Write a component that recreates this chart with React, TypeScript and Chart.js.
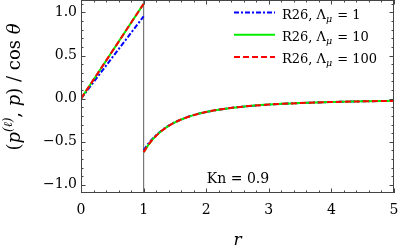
import React, { useEffect, useRef } from 'react';
import { Chart, registerables } from 'chart.js';
Chart.register(...registerables);

// ---- data ----
const innerR = [0, 0.5, 1];
const outerR = [1, 1.1, 1.2, 1.3, 1.4, 1.5, 1.6, 1.8, 2, 2.25, 2.5, 3, 3.5, 4, 4.5, 5];
const blueInner = [0, 0.478, 0.955];
const greenInner = [0, 0.55, 1.1];
const redInner = [0, 0.55, 1.1];
const blueOuter = [-0.6, -0.5, -0.425, -0.363, -0.313, -0.274, -0.241, -0.19, -0.155, -0.122, -0.099, -0.069, -0.051, -0.039, -0.031, -0.025];
const greenOuter = [-0.62, -0.512, -0.431, -0.367, -0.316, -0.276, -0.242, -0.191, -0.155, -0.122, -0.099, -0.069, -0.051, -0.039, -0.031, -0.025];
const redOuter = [-0.62, -0.512, -0.431, -0.367, -0.316, -0.276, -0.242, -0.191, -0.155, -0.122, -0.099, -0.069, -0.051, -0.039, -0.031, -0.025];
const lambdaValues = ['1', '10', '100'];
const xTicks = [0, 1, 2, 3, 4, 5];
const yTicks = [-1, -0.5, 0, 0.5, 1];
const xRange = [0, 5];
const yRange = [-1.095, 1.145];
const wallR = 1;
const knLabel = 'Kn = 0.9';
const xTitle = 'r';

const SERIF = '"DejaVu Serif", serif';

type Pt = { x: number; y: number | null };
function build(inner: number[], outer: number[]): Pt[] {
  const a: Pt[] = innerR.map((r, i) => ({ x: r, y: inner[i] }));
  const gap: Pt[] = [{ x: wallR, y: null }];
  const b: Pt[] = outerR.map((r, i) => ({ x: r, y: outer[i] }));
  return a.concat(gap, b);
}

const seriesStyle = [
  { color: '#0000ff', dash: [5, 2, 2, 2] },
  { color: '#00ee00', dash: [] as number[] },
  { color: '#ff0000', dash: [6, 3] },
];

const decorPlugin = {
  id: 'decor',
  afterDraw(chart: any) {
    const { ctx, chartArea: ca, scales } = chart;
    const xs = scales.x;
    const ys = scales.y;
    ctx.save();
    // frame
    ctx.strokeStyle = '#444';
    ctx.lineWidth = 1;
    ctx.strokeRect(ca.left + 0.5, ca.top + 0.5, ca.right - ca.left - 1, ca.bottom - ca.top - 1);
    // ticks
    ctx.beginPath();
    for (let i = 0; i <= 25; i++) {
      const v = i * 0.2;
      const major = i % 5 === 0;
      const L = major ? 4.5 : 2.5;
      const px = Math.round(xs.getPixelForValue(v)) + 0.5;
      ctx.moveTo(px, ca.bottom);
      ctx.lineTo(px, ca.bottom - L);
      ctx.moveTo(px, ca.top);
      ctx.lineTo(px, ca.top + L);
    }
    for (let i = -11; i <= 11; i++) {
      const v = i * 0.1;
      if (v < yRange[0] || v > yRange[1]) continue;
      const major = i % 5 === 0;
      const L = major ? 4.5 : 2.5;
      const py = Math.round(ys.getPixelForValue(v)) + 0.5;
      ctx.moveTo(ca.left, py);
      ctx.lineTo(ca.left + L, py);
      ctx.moveTo(ca.right, py);
      ctx.lineTo(ca.right - L, py);
    }
    ctx.stroke();

    // Kn label
    ctx.fillStyle = '#000';
    ctx.font = `14px ${SERIF}`;
    ctx.textAlign = 'center';
    ctx.textBaseline = 'middle';
    ctx.fillText(knLabel, ca.left + 157, ca.bottom - 14);

    // legend
    const lx0 = ca.left + 153;
    const lx1 = ca.left + 194;
    const tx = ca.left + 201;
    seriesStyle.forEach((s, i) => {
      const y = ca.top + 12.5 + i * 22.2;
      ctx.strokeStyle = s.color;
      ctx.lineWidth = 2;
      ctx.setLineDash(s.dash);
      ctx.beginPath();
      ctx.moveTo(lx0, y);
      ctx.lineTo(lx1, y);
      ctx.stroke();
      ctx.setLineDash([]);
      ctx.fillStyle = '#000';
      ctx.textAlign = 'left';
      ctx.textBaseline = 'alphabetic';
      const base = y + 6;
      let x = tx;
      ctx.font = `13px ${SERIF}`;
      const p1 = 'R26, Λ';
      ctx.fillText(p1, x, base);
      x += ctx.measureText(p1).width;
      ctx.font = `italic 9.5px ${SERIF}`;
      ctx.fillText('μ', x, base + 3);
      x += ctx.measureText('μ').width + 1;
      ctx.font = `13px ${SERIF}`;
      ctx.fillText(' = ' + lambdaValues[i], x, base);
    });

    // y-axis title (rotated, mixed styles)
    const parts = [
      { t: '(', f: `18px ${SERIF}`, dy: 0 },
      { t: 'p', f: `italic 18px ${SERIF}`, dy: 0 },
      { t: '(ℓ)', f: `italic 12px ${SERIF}`, dy: -8 },
      { t: ', ', f: `18px ${SERIF}`, dy: 0 },
      { t: 'p', f: `italic 18px ${SERIF}`, dy: 0 },
      { t: ') / cos ', f: `18px ${SERIF}`, dy: 0 },
      { t: 'θ', f: `italic 18px ${SERIF}`, dy: 0 },
    ];
    let total = 0;
    const widths = parts.map((p) => {
      ctx.font = p.f;
      const w = ctx.measureText(p.t).width;
      total += w;
      return w;
    });
    ctx.translate(20, 87);
    ctx.rotate(-Math.PI / 2);
    ctx.textAlign = 'left';
    ctx.textBaseline = 'alphabetic';
    let cx = -total / 2;
    parts.forEach((p, i) => {
      ctx.font = p.f;
      ctx.fillText(p.t, cx, p.dy);
      cx += widths[i];
    });
    ctx.restore();
  },
};

export default function App() {
  const ref = useRef<HTMLCanvasElement | null>(null);
  useEffect(() => {
    document.body.style.margin = '0';
    const canvas = ref.current!;
    const names = lambdaValues.map((v) => `R26, Λμ = ${v}`);
    const inner = [blueInner, greenInner, redInner];
    const outer = [blueOuter, greenOuter, redOuter];
    const datasets: any[] = seriesStyle.map((s, i) => ({
      label: names[i],
      data: build(inner[i], outer[i]),
      borderColor: s.color,
      borderWidth: 2,
      borderDash: s.dash,
      pointRadius: 0,
      fill: false,
      spanGaps: false,
      cubicInterpolationMode: 'monotone',
      order: 2 - i,
    }));
    datasets.push({
      label: 'wall',
      data: [
        { x: wallR, y: yRange[0] },
        { x: wallR, y: yRange[1] },
      ],
      borderColor: '#777777',
      borderWidth: 1.2,
      pointRadius: 0,
      fill: false,
      order: 5,
    });
    const chart = new Chart(canvas, {
      type: 'line',
      data: { datasets },
      plugins: [decorPlugin],
      options: {
        animation: false,
        responsive: false,
        devicePixelRatio: 1,
        layout: { autoPadding: false, padding: { top: 0, right: 5, left: 0, bottom: 0 } },
        plugins: { legend: { display: false }, tooltip: { enabled: false } },
        scales: {
          x: {
            type: 'linear',
            min: xRange[0],
            max: xRange[1],
            grid: { display: false, drawTicks: false },
            border: { display: false },
            afterBuildTicks: (s: any) => {
              s.ticks = xTicks.map((v) => ({ value: v }));
            },
            afterFit: (s: any) => {
              s.height = 56;
              s.paddingLeft = 0;
              s.paddingRight = 0;
            },
            ticks: {
              color: '#000',
              padding: 9,
              maxRotation: 0,
              font: { family: SERIF, size: 14 },
              callback: (v: any) => String(v),
            },
            title: {
              display: true,
              text: xTitle,
              color: '#000',
              font: { family: SERIF, size: 17, style: 'italic', lineHeight: 1 },
              padding: { top: 0, bottom: 0 },
            },
          },
          y: {
            type: 'linear',
            min: yRange[0],
            max: yRange[1],
            grid: { display: false, drawTicks: false },
            border: { display: false },
            afterBuildTicks: (s: any) => {
              s.ticks = yTicks.map((v) => ({ value: v }));
            },
            afterFit: (s: any) => {
              s.width = 81;
              s.paddingTop = 0;
              s.paddingBottom = 0;
            },
            ticks: {
              color: '#000',
              padding: 4,
              font: { family: SERIF, size: 14 },
              callback: (v: any) => (v < 0 ? '−' : '') + Math.abs(Number(v)).toFixed(1),
            },
          },
        },
      },
    });
    return () => chart.destroy();
  }, []);
  return (
    <div style={{ width: 399, height: 249 }}>
      <canvas ref={ref} width={399} height={249} style={{ display: 'block' }} />
    </div>
  );
}
